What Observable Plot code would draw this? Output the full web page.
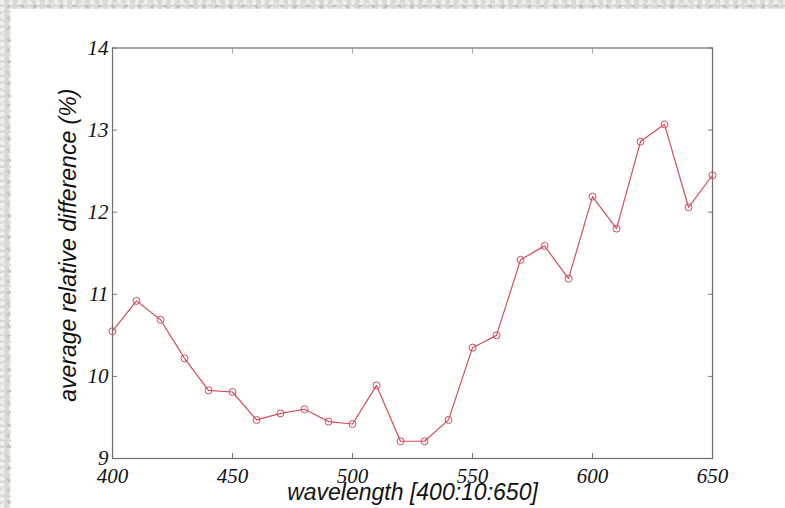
<!DOCTYPE html>
<html><head><meta charset="utf-8">
<script src="https://cdn.jsdelivr.net/npm/d3@7"></script>
<script src="https://cdn.jsdelivr.net/npm/@observablehq/plot@0.6"></script>
<style>
html,body{margin:0;padding:0;}
body{width:785px;height:508px;overflow:hidden;position:relative;
  background-color:#d9d8d4;
  background-image:
    radial-gradient(circle at 20% 30%, rgba(255,255,255,0.55) 0 2px, transparent 3px),
    radial-gradient(circle at 70% 60%, rgba(170,170,165,0.5) 0 1.5px, transparent 2.5px),
    radial-gradient(circle at 45% 80%, rgba(255,255,255,0.4) 0 1px, transparent 2px);
  background-size:9px 7px, 13px 11px, 7px 5px;}
#chart{position:absolute;left:11px;top:9px;width:774px;height:499px;background:#fff;}
</style></head><body><div id="chart"></div>
<script>
const wavelengths = [400,410,420,430,440,450,460,470,480,490,500,510,520,530,540,550,560,570,580,590,600,610,620,630,640,650];
const difference = [10.55,10.92,10.69,10.22,9.83,9.81,9.47,9.55,9.60,9.45,9.42,9.89,9.21,9.21,9.47,10.35,10.50,11.42,11.59,11.19,12.19,11.80,12.86,13.07,12.06,12.45];
const xTicks = [400,450,500,550,600,650];
const yTicks = [9,10,11,12,13,14];
const xTitle = "wavelength [400:10:650]";
const yTitle = "average relative difference (%)";

const data = wavelengths.map((w, i) => ({w, v: difference[i]}));
const lineColor = "#d24d5c";
const titleFont = {fontFamily: "'Liberation Sans', Arial, sans-serif", fontStyle: "italic", fontSize: 23, fill: "#111"};

const plot = Plot.plot({
  width: 774, height: 499,
  marginLeft: 101, marginRight: 73, marginTop: 38.5, marginBottom: 50,
  style: {background: "white", fontFamily: "'Liberation Serif', 'Times New Roman', serif", fontSize: "21px", fontStyle: "italic", color: "#111"},
  x: {domain: [400, 650]},
  y: {domain: [9, 14]},
  marks: [
    Plot.axisX(xTicks, {anchor: "top", tickSize: -5, tickFormat: () => "", label: null, stroke: "#aaa"}),
    Plot.axisY(yTicks, {anchor: "right", tickSize: -5, tickFormat: () => "", label: null, stroke: "#777"}),
    Plot.axisX(xTicks, {anchor: "bottom", tickSize: -5, tickPadding: 15, tickFormat: d => String(d), label: null, stroke: "#777"}),
    Plot.axisY(yTicks, {anchor: "left", tickSize: -5, tickPadding: 9, tickFormat: d => String(d), label: null, stroke: "#777"}),
    Plot.frame({stroke: "#6f6f6f", strokeWidth: 1.2}),
    Plot.line(data, {x: "w", y: "v", stroke: lineColor, strokeWidth: 1.2}),
    Plot.dot(data, {x: "w", y: "v", r: 3.5, stroke: lineColor, strokeWidth: 1, fill: "none"}),
    Plot.text([xTitle], {text: d => d, frameAnchor: "bottom", dy: 41, lineAnchor: "bottom", textAnchor: "middle", ...titleFont}),
    Plot.text([yTitle], {text: d => d, frameAnchor: "left", dx: -37, dy: -8, rotate: -90, lineAnchor: "bottom", textAnchor: "middle", ...titleFont})
  ]
});
document.getElementById("chart").appendChild(plot);
</script>
</body></html>
